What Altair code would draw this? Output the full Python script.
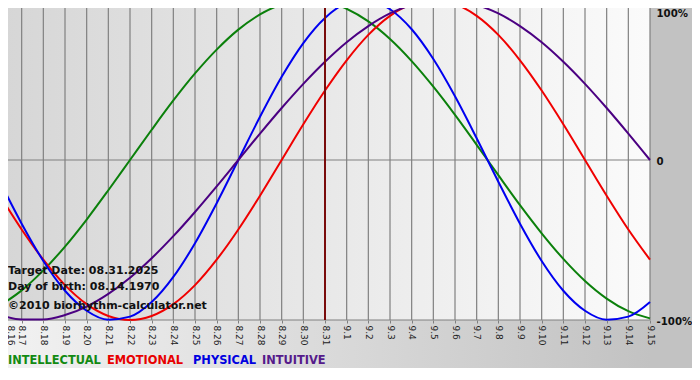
import json
import altair as alt
import pandas as pd

days = ["8.16", "8.17", "8.18", "8.19", "8.20", "8.21", "8.22", "8.23", "8.24", "8.25",
        "8.26", "8.27", "8.28", "8.29", "8.30", "8.31", "9.1", "9.2", "9.3", "9.4",
        "9.5", "9.6", "9.7", "9.8", "9.9", "9.10", "9.11", "9.12", "9.13", "9.14", "9.15"]

intellectual = [-0.910, -0.815, -0.690, -0.541, -0.372, -0.189, 0.0, 0.189, 0.372, 0.541,
                0.690, 0.815, 0.910, 0.972, 0.999, 0.990, 0.945, 0.866, 0.756, 0.618,
                0.458, 0.282, 0.095, -0.095, -0.282, -0.458, -0.618, -0.756, -0.866, -0.945, -0.990]
emotional = [-0.223, -0.434, -0.623, -0.782, -0.901, -0.975, -1.0, -0.975, -0.901, -0.782,
             -0.623, -0.434, -0.223, 0.0, 0.223, 0.434, 0.623, 0.782, 0.901, 0.975,
             1.0, 0.975, 0.901, 0.782, 0.623, 0.434, 0.223, 0.0, -0.223, -0.434, -0.623]
physical = [-0.136, -0.398, -0.631, -0.817, -0.942, -0.998, -0.979, -0.888, -0.731, -0.520,
            -0.270, 0.0, 0.270, 0.520, 0.731, 0.888, 0.979, 0.998, 0.942, 0.817,
            0.631, 0.398, 0.136, -0.136, -0.398, -0.631, -0.817, -0.942, -0.998, -0.979, -0.888]
intuitive = [-0.969, -0.997, -0.997, -0.969, -0.916, -0.837, -0.736, -0.614, -0.476, -0.325,
             -0.165, 0.0, 0.165, 0.325, 0.476, 0.614, 0.736, 0.837, 0.916, 0.969,
             0.997, 0.997, 0.969, 0.916, 0.837, 0.736, 0.614, 0.476, 0.325, 0.165, 0.0]

series_names = ["INTELLECTUAL", "EMOTIONAL", "PHYSICAL", "INTUITIVE"]
series_colors = ["#0b800b", "#f00000", "#0000f0", "#4b0082"]
legend_colors = ["#128a12", "#e80000", "#0000e0", "#551a8b"]
target_day = "8.31"
y_ticks = [-1, 0, 1]
info_lines = ["Target Date: 08.31.2025", "Day of birth: 08.14.1970", "©2010 biorhythm-calculator.net"]

W, H = 650, 320
FONT = "DejaVu Sans"
GRID = "#808080"

rows = []
for name, vals in zip(series_names, [intellectual, emotional, physical, intuitive]):
    for i, (d, v) in enumerate(zip(days, vals)):
        rows.append({"idx": i, "day": d, "value": v, "series": name})
df = pd.DataFrame(rows)

label_expr = json.dumps(days) + "[datum.value]"

x_scale = alt.Scale(domain=[0, len(days) - 1], nice=False, zero=False)
y_scale = alt.Scale(domain=[-1, 1], nice=False)

x_axis = alt.Axis(values=list(range(len(days))), labelExpr=label_expr, labelAngle=90,
                  labelAlign="left", labelBaseline="middle", labelFontSize=9,
                  labelFont=FONT, labelColor="#222222", labelPadding=2,
                  labelOffset={"condition": {"test": "datum.value == 0", "value": 10}, "value": 0},
                  grid=False, tickColor=GRID, tickSize=3, domain=False, title=None,
                  labelOverlap=False, labelFlush=False, zindex=1)
y_axis = alt.Axis(orient="right", values=y_ticks,
                  labelExpr="datum.value == 1 ? '100%' : (datum.value == 0 ? '0' : '-100%')",
                  labelFont=FONT, labelFontWeight="bold", labelFontSize=10.2,
                  labelColor="#111111", labelPadding=6, ticks=False, domain=False,
                  labelBaseline={"condition": {"test": "datum.value == 1", "value": "top"},
                                 "value": "middle"},
                  labelOffset={"condition": {"test": "datum.value == 1", "value": 8},
                               "value": 1},
                  labelOverlap=False, grid=False, title=None, labelFlush=False, zindex=1)

def xe():
    return alt.X("idx:Q", scale=x_scale, axis=x_axis)

def ye():
    return alt.Y("value:Q", scale=y_scale, axis=y_axis)

one = pd.DataFrame({"k": [0]})

plot_bg = alt.Chart(one).mark_rect(
    color=alt.Gradient(gradient="linear", x1=0, x2=1, y1=0, y2=0,
                       stops=[alt.GradientStop(color="#d6d6d6", offset=0),
                              alt.GradientStop(color="#fbfbfb", offset=1)])
).encode(x=alt.value(0), x2=alt.value(W), y=alt.value(0), y2=alt.value(H))

right_bg = alt.Chart(one).mark_rect(color="#c2c2c2", clip=False).encode(
    x=alt.value(W), x2=alt.value(W + 60), y=alt.value(0), y2=alt.value(H + 70))

bottom_bg = alt.Chart(one).mark_rect(
    clip=False,
    color=alt.Gradient(gradient="linear", x1=0, x2=1, y1=0, y2=0,
                       stops=[alt.GradientStop(color="#f2f2f2", offset=0),
                              alt.GradientStop(color="#c2c2c2", offset=1)])
).encode(x=alt.value(0), x2=alt.value(W + 1), y=alt.value(H), y2=alt.value(H + 70))

lines = alt.Chart(df).mark_line(strokeWidth=2, interpolate="monotone").encode(
    x=xe(), y=ye(),
    color=alt.Color("series:N", scale=alt.Scale(domain=series_names, range=series_colors), legend=None),
    detail="series:N")

vgrid = alt.Chart(pd.DataFrame({"idx": list(range(len(days)))})).mark_rule(
    color=GRID, strokeWidth=1.2).encode(x=xe())
hgrid = alt.Chart(pd.DataFrame({"value": y_ticks})).mark_rule(
    color=GRID, strokeWidth=1.2).encode(y=ye())

target_df = pd.DataFrame({"idx": [days.index(target_day)]})
target = alt.Chart(target_df).mark_rule(color="#7a0c0c", strokeWidth=2).encode(x=xe())

info_layers = []
for txt, py in zip(info_lines, [271, 287, 306]):
    info_layers.append(
        alt.Chart(pd.DataFrame({"text": [txt]})).mark_text(
            align="left", baseline="middle", font=FONT, fontWeight="bold",
            fontSize=11, color="#111111", clip=False).encode(
            x=alt.value(8), y=alt.value(py), text="text:N"))

legend_layers = []
for name, col, px in zip(series_names, legend_colors, [8, 107, 193, 262]):
    legend_layers.append(
        alt.Chart(pd.DataFrame({"name": [name]})).mark_text(
            align="left", baseline="middle", font=FONT, fontWeight="bold",
            fontSize=11.4, color=col, clip=False).encode(
            x=alt.value(px), y=alt.value(361), text="name:N"))

chart = alt.layer(bottom_bg, right_bg, plot_bg, lines.mark_line(opacity=0), vgrid, hgrid, lines, target,
                  *info_layers, *legend_layers).properties(
    width=W, height=H,
    padding={"left": -8, "top": -8, "right": 42, "bottom": 48},
    autosize=alt.AutoSizeParams(type="none"),
    background="#c2c2c2"
).configure_view(stroke=None)

chart.save("out.html", embed_options={"renderer": "svg", "actions": False})
